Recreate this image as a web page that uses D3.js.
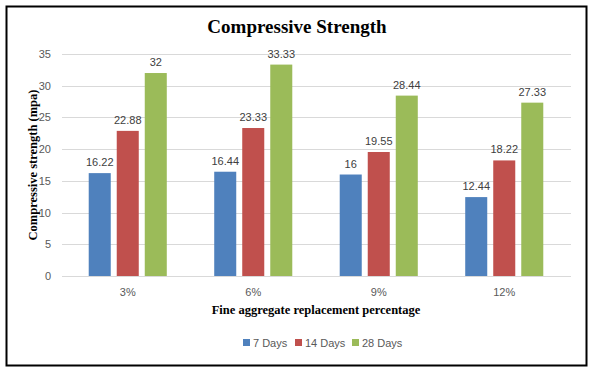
<!DOCTYPE html>
<html>
<head>
<meta charset="utf-8">
<script src="https://cdn.jsdelivr.net/npm/d3@7"></script>
<style>
  body { margin: 0; background: #fff; }
  text { font-family: "Liberation Sans", Arial, sans-serif; }
</style>
</head>
<body>
<div id="chart"></div>
<script>
const categories = ["3%", "6%", "9%", "12%"];
const seriesNames = ["7 Days", "14 Days", "28 Days"];
const days7 = [16.22, 16.44, 16, 12.44];
const days14 = [22.88, 23.33, 19.55, 18.22];
const days28 = [32, 33.33, 28.44, 27.33];
const yTicks = [0, 5, 10, 15, 20, 25, 30, 35];
const colors = ["#4F81BD", "#C0504D", "#9BBB59"];

const series = [days7, days14, days28];
const W = 593, H = 370;
const margin = { top: 54, right: 26, bottom: 94, left: 65 };
const width = W - margin.left - margin.right;
const height = H - margin.top - margin.bottom;

const svg = d3.select("#chart").append("svg")
    .attr("width", W)
    .attr("height", H);

// outer frame
svg.append("rect")
    .attr("x", 6.5).attr("y", 6.5)
    .attr("width", 580).attr("height", 359)
    .attr("fill", "#fff")
    .attr("stroke", "#000")
    .attr("stroke-width", 2);

const g = svg.append("g")
    .attr("transform", "translate(" + margin.left + "," + margin.top + ")");

const x0 = d3.scaleBand()
    .domain(categories)
    .range([0, width])
    .paddingInner(0.378)
    .paddingOuter(0.189);
const x1 = d3.scaleBand()
    .domain(d3.range(series.length))
    .range([0, x0.bandwidth()])
    .paddingInner(0.214)
    .paddingOuter(0);
const y = d3.scaleLinear()
    .domain([0, 35])
    .range([height, 0]);

// gridlines
g.selectAll("line.grid")
    .data(yTicks)
    .enter()
    .append("line")
      .attr("class", "grid")
      .attr("x1", -3).attr("x2", width + 4)
      .attr("y1", d => Math.round(y(d)) + 0.5)
      .attr("y2", d => Math.round(y(d)) + 0.5)
      .attr("stroke", "#d9d9d9")
      .attr("stroke-width", 1);

// y tick labels
g.selectAll("text.ytick")
    .data(yTicks)
    .enter()
    .append("text")
      .attr("class", "ytick")
      .attr("x", -14)
      .attr("y", d => y(d) + 4)
      .attr("text-anchor", "end")
      .attr("font-size", 11)
      .attr("fill", "#595959")
      .text(d => d);

// bars
const groups = g.selectAll("g.cat")
    .data(categories)
    .enter()
    .append("g")
      .attr("class", "cat")
      .attr("transform", d => "translate(" + x0(d) + ",0)");

groups.selectAll("rect")
    .data((d, ci) => series.map((s, si) => ({ si: si, v: s[ci] })))
    .enter()
    .append("rect")
      .attr("x", d => x1(d.si))
      .attr("width", x1.bandwidth())
      .attr("y", d => y(d.v))
      .attr("height", d => y(0) - y(d.v))
      .attr("fill", d => colors[d.si]);

groups.selectAll("text.label")
    .data((d, ci) => series.map((s, si) => ({ si: si, v: s[ci] })))
    .enter()
    .append("text")
      .attr("class", "label")
      .attr("x", d => x1(d.si) + x1.bandwidth() / 2)
      .attr("y", d => y(d.v) - 7)
      .attr("text-anchor", "middle")
      .attr("font-size", 11)
      .attr("fill", "#404040")
      .text(d => d.v);

// x tick labels
g.selectAll("text.xtick")
    .data(categories)
    .enter()
    .append("text")
      .attr("class", "xtick")
      .attr("x", d => x0(d) + x0.bandwidth() / 2)
      .attr("y", height + 20)
      .attr("text-anchor", "middle")
      .attr("font-size", 11)
      .attr("fill", "#595959")
      .text(d => d);

// title
svg.append("text")
    .attr("x", 297)
    .attr("y", 33)
    .attr("text-anchor", "middle")
    .style("font-family", "'Liberation Serif', 'Times New Roman', serif")
    .attr("font-weight", "bold")
    .attr("font-size", 19)
    .attr("fill", "#000")
    .text("Compressive Strength");

// axis titles
svg.append("text")
    .attr("x", margin.left + width / 2)
    .attr("y", 314)
    .attr("text-anchor", "middle")
    .style("font-family", "'Liberation Serif', 'Times New Roman', serif")
    .attr("font-weight", "bold")
    .attr("font-size", 12.5)
    .text("Fine aggregate replacement percentage");

svg.append("text")
    .attr("transform", "translate(37," + (margin.top + height / 2) + ") rotate(-90)")
    .attr("text-anchor", "middle")
    .style("font-family", "'Liberation Serif', 'Times New Roman', serif")
    .attr("font-weight", "bold")
    .attr("font-size", 12.5)
    .text("Compressive strength (mpa)");

// legend
const legendX = [243, 295, 352];
const legend = svg.selectAll("g.legend")
    .data(seriesNames)
    .enter()
    .append("g")
      .attr("class", "legend")
      .attr("transform", (d, i) => "translate(" + legendX[i] + ",339)");
legend.append("rect")
    .attr("width", 7).attr("height", 7)
    .attr("fill", (d, i) => colors[i]);
legend.append("text")
    .attr("x", 10)
    .attr("y", 8)
    .attr("font-size", 11)
    .attr("fill", "#595959")
    .text(d => d);
</script>
</body>
</html>
